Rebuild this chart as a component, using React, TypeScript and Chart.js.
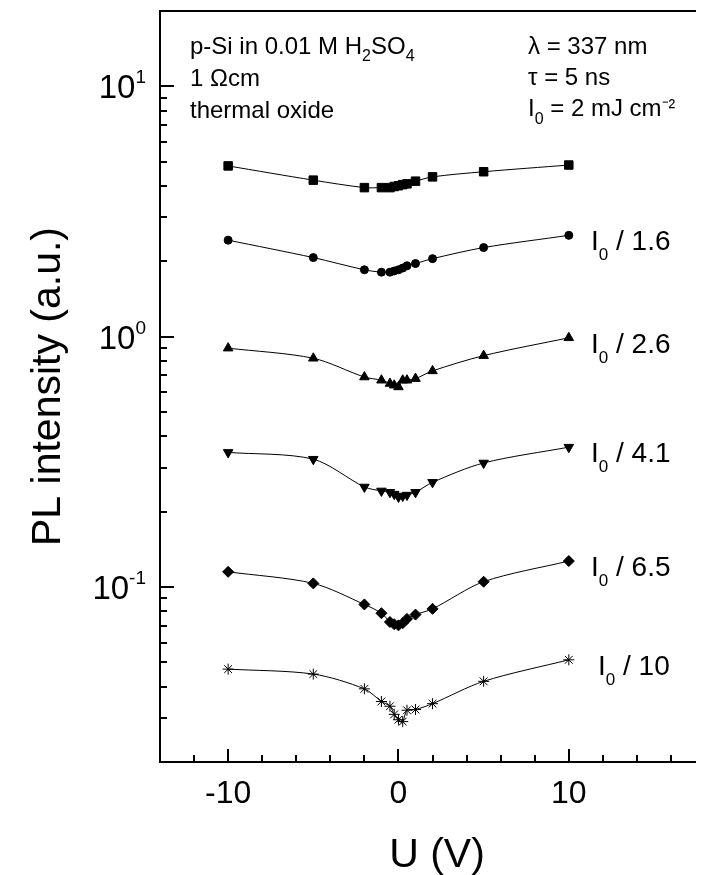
import React, { useEffect, useRef } from 'react';
import { Chart, registerables } from 'chart.js';

Chart.register(...registerables);

const FONT = '"Liberation Sans", Arial, sans-serif';

// Bias voltage U (V)
const voltages = [-10, -5, -2, -1, -0.5, -0.25, 0, 0.25, 0.5, 1, 2, 5, 10];

// PL intensity (a.u.) for each excitation intensity
const seriesI0 = [4.81, 4.22, 3.94, 3.94, 3.94, 3.98, 4.01, 4.05, 4.08, 4.18, 4.35, 4.56, 4.85];
const seriesI0div1p6 = [2.43, 2.07, 1.85, 1.81, 1.81, 1.83, 1.85, 1.88, 1.92, 1.96, 2.05, 2.27, 2.54];
const seriesI0div2p6 = [0.9, 0.82, 0.69, 0.67, 0.65, 0.64, 0.63, 0.67, 0.67, 0.68, 0.73, 0.84, 0.99];
const seriesI0div4p1 = [0.345, 0.324, 0.251, 0.242, 0.239, 0.235, 0.229, 0.231, 0.233, 0.239, 0.262, 0.313, 0.362];
const seriesI0div6p5 = [0.115, 0.1034, 0.0852, 0.0786, 0.0725, 0.071, 0.0703, 0.0717, 0.0746, 0.0776, 0.0818, 0.105, 0.127];
const seriesI0div10 = [0.047, 0.0449, 0.0392, 0.0349, 0.0334, 0.031, 0.0295, 0.029, 0.0322, 0.0324, 0.0342, 0.042, 0.0512];

const allSeries = [seriesI0, seriesI0div1p6, seriesI0div2p6, seriesI0div4p1, seriesI0div6p5, seriesI0div10];
const seriesDivisors = ['', '1.6', '2.6', '4.1', '6.5', '10'];

// axis ticks
const xMajorTicks = [-10, 0, 10];
const xMinorStep = 2;
const xRange = [-14, 17.35];
const yRange = [0.02, 20];
const yLabelExponents = [-1, 0, 1];

const markerStyles = ['rect', 'circle', 'triangle', 'triangle', 'rectRot', 'star'];
const markerRadius = [6, 4, 5.5, 5.5, 5.5, 5.5];
const markerRotation = [0, 0, 0, 180, 0, 0];

type Part = [string, number, number];

function drawParts(ctx: CanvasRenderingContext2D, parts: Part[], x: number, baseline: number, align: 'left' | 'right' | 'center') {
  let total = 0;
  const widths: number[] = [];
  for (const p of parts) {
    ctx.font = `${p[1]}px ${FONT}`;
    const w = ctx.measureText(p[0]).width;
    widths.push(w);
    total += w;
  }
  let cx = align === 'right' ? x - total : align === 'center' ? x - total / 2 : x;
  ctx.textAlign = 'left';
  ctx.textBaseline = 'alphabetic';
  parts.forEach((p, i) => {
    ctx.font = `${p[1]}px ${FONT}`;
    ctx.fillText(p[0], cx, baseline + p[2]);
    cx += widths[i];
  });
}

const decorPlugin = {
  id: 'decor',
  afterDraw(chart: any) {
    const ctx: CanvasRenderingContext2D = chart.ctx;
    const { left, right, top, bottom } = chart.chartArea;
    const xs = chart.scales.x;
    const ys = chart.scales.y;
    ctx.save();
    ctx.strokeStyle = '#000';
    ctx.fillStyle = '#000';
    ctx.lineWidth = 2;
    ctx.lineCap = 'butt';

    // frame
    ctx.beginPath();
    ctx.moveTo(right + 2, top);
    ctx.lineTo(left, top);
    ctx.lineTo(left, bottom);
    ctx.lineTo(right + 2, bottom);
    ctx.stroke();

    // y ticks (log)
    ctx.beginPath();
    for (let e = -2; e <= 1; e++) {
      for (let k = 1; k <= 9; k++) {
        const v = k * Math.pow(10, e);
        if (v < yRange[0] * 0.999 || v > yRange[1] * 1.001) continue;
        const y = Math.round(ys.getPixelForValue(v));
        const len = k === 1 ? 14 : 7;
        ctx.moveTo(left, y);
        ctx.lineTo(left + len, y);
      }
    }
    // x ticks
    for (let v = -14; v <= 16; v += xMinorStep) {
      const x = Math.round(xs.getPixelForValue(v));
      const len = xMajorTicks.includes(v) ? 13 : 7;
      ctx.moveTo(x, bottom);
      ctx.lineTo(x, bottom - len);
    }
    ctx.stroke();

    // y tick labels
    for (const e of yLabelExponents) {
      const y = ys.getPixelForValue(Math.pow(10, e));
      drawParts(ctx, [['10', 33, 0], [String(e), 19, -15]], 146, y + 12, 'right');
    }
    // x tick labels
    ctx.font = `32px ${FONT}`;
    ctx.textAlign = 'center';
    ctx.textBaseline = 'alphabetic';
    for (const v of xMajorTicks) {
      ctx.fillText(String(v), xs.getPixelForValue(v), 803);
    }

    // axis titles
    ctx.font = `41px ${FONT}`;
    ctx.textAlign = 'center';
    ctx.fillText('U (V)', 437, 867);
    ctx.save();
    ctx.translate(60, (top + bottom) / 2);
    ctx.rotate(-Math.PI / 2);
    ctx.fillText('PL intensity (a.u.)', 0, 0);
    ctx.restore();

    // annotations
    drawParts(ctx, [['p-Si in 0.01 M H', 24, 0], ['2', 16, 7], ['SO', 24, 0], ['4', 16, 7]], 190, 54, 'left');
    drawParts(ctx, [['1 \u03A9cm', 24, 0]], 190, 86, 'left');
    drawParts(ctx, [['thermal oxide', 24, 0]], 190, 118, 'left');
    drawParts(ctx, [['\u03BB = 337 nm', 24, 0]], 528, 54, 'left');
    drawParts(ctx, [['\u03C4 = 5 ns', 24, 0]], 528, 85, 'left');
    drawParts(ctx, [['I', 24, 0], ['0', 16, 8], [' = 2 mJ cm', 24, 0], ['\u207B\u00B2', 20, -2]], 528, 116, 'left');

    // series labels
    allSeries.forEach((s, i) => {
      if (!seriesDivisors[i]) return;
      const y = ys.getPixelForValue(s[s.length - 1]);
      const x = i === allSeries.length - 1 ? 598 : 591;
      drawParts(ctx, [['I', 28, 0], ['0', 17, 10], [' / ' + seriesDivisors[i], 28, 0]], x, y + 15, 'left');
    });

    ctx.restore();
  },
};

export default function App() {
  const canvasRef = useRef<HTMLCanvasElement | null>(null);

  useEffect(() => {
    if (!canvasRef.current) return;
    const datasets = allSeries.map((s, i) => ({
      label: seriesDivisors[i] ? 'I0 / ' + seriesDivisors[i] : 'I0',
      data: voltages.map((v, j) => ({ x: v, y: s[j] })),
      borderColor: '#000',
      borderWidth: 1,
      backgroundColor: '#000',
      pointBackgroundColor: '#000',
      pointBorderColor: '#000',
      pointBorderWidth: 1,
      pointStyle: markerStyles[i] as any,
      pointRadius: markerRadius[i],
      pointRotation: markerRotation[i],
      tension: 0.3,
      fill: false,
      clip: false as any,
    }));
    const chart = new Chart(canvasRef.current, {
      type: 'line',
      data: { datasets },
      options: {
        responsive: false,
        animation: false,
        devicePixelRatio: 1,
        layout: { padding: { left: 160, right: 0, top: 11, bottom: 113 } },
        plugins: { legend: { display: false }, tooltip: { enabled: false } },
        scales: {
          x: { type: 'linear', min: xRange[0], max: xRange[1], display: false },
          y: { type: 'logarithmic', min: yRange[0], max: yRange[1], display: false },
        },
      },
      plugins: [decorPlugin],
    });
    return () => chart.destroy();
  }, []);

  return (
    <div style={{ position: 'absolute', left: 0, top: 0, width: 701, height: 875, background: '#fff' }}>
      <canvas ref={canvasRef} width={701} height={875} style={{ width: 701, height: 875, display: 'block' }} />
    </div>
  );
}
